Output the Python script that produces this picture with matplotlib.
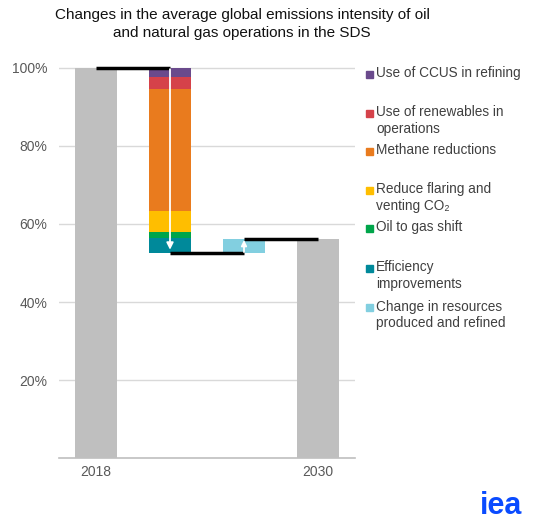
import matplotlib.pyplot as plt
from matplotlib.patches import Rectangle

plt.rcParams['font.family'] = ['Liberation Sans', 'DejaVu Sans']

# data
start_2018 = 100.0
drivers = ['Use of CCUS in refining', 'Use of renewables in\noperations',
           'Methane reductions', 'Reduce flaring and\nventing CO\u2082',
           'Oil to gas shift', 'Efficiency\nimprovements']
reductions = [2.3, 3.1, 31.3, 5.4, 1.6, 3.7]
driver_colors = ['#6a4a8c', '#d5424a', '#e97b1e', '#ffbe00', '#00a54a', '#00899a']
resource_label = 'Change in resources\nproduced and refined'
resource_change = 3.6
resource_color = '#82cfe0'
xticklabels = ['2018', '', '', '2030']
yticks = [20, 40, 60, 80, 100]

W, H = 544, 525
fig = plt.figure(figsize=(W / 100, H / 100), dpi=100)
ax = fig.add_axes([59 / W, (H - 458) / H, 296 / W, (458 - 60.2) / H])

bw = 0.56
grey = '#bfbfbf'

# 2018 bar
ax.bar(0, start_2018, width=bw, color=grey, zorder=2)

# stacked reductions, from the top down
level = start_2018
for v, c in zip(reductions, driver_colors):
    ax.bar(1, v, bottom=level - v, width=bw, color=c, zorder=2)
    level -= v
after_red = level

# resource change
ax.bar(2, resource_change, bottom=after_red, width=bw, color=resource_color, zorder=2)
end_2030 = after_red + resource_change

# 2030 bar
ax.bar(3, end_2030, width=bw, color=grey, zorder=2)

# connectors
for x0, y in [(0, start_2018), (1, after_red), (2, end_2030)]:
    ax.plot([x0, x0 + 1], [y, y], color='black', lw=2.5, zorder=4,
            clip_on=False, solid_capstyle='butt')

# white arrows
ax.annotate('', xy=(1, after_red + 0.8), xytext=(1, start_2018 - 0.3),
            arrowprops=dict(arrowstyle='-|>', color='white', lw=1.3,
                            mutation_scale=10, shrinkA=0, shrinkB=0), zorder=5)
ax.annotate('', xy=(2, end_2030 - 0.3), xytext=(2, after_red + 0.2),
            arrowprops=dict(arrowstyle='-|>', color='white', lw=1.3,
                            mutation_scale=8, shrinkA=0, shrinkB=0), zorder=5)

ax.set_xlim(-0.5, 3.5)
ax.set_ylim(0, 102)
ax.set_yticks(yticks)
ax.set_yticklabels([f'{t}%' for t in yticks])
ax.set_xticks(range(4))
ax.set_xticklabels(xticklabels)
ax.tick_params(axis='both', length=0, labelsize=10, colors='#595959')
ax.tick_params(axis='x', pad=5)
ax.tick_params(axis='y', pad=8.5)
ax.grid(axis='y', color='#d9d9d9', lw=1, zorder=0)
for s in ['top', 'right', 'left']:
    ax.spines[s].set_visible(False)
ax.spines['bottom'].set_color('#bfbfbf')
ax.spines['bottom'].set_linewidth(1.2)

# legend drawn by hand
leg_y = [74, 113, 151, 190, 228, 268, 307]
leg_labels = drivers + [resource_label]
leg_colors = driver_colors + [resource_color]
for y, lab, c in zip(leg_y, leg_labels, leg_colors):
    fig.add_artist(Rectangle(((366) / W, (H - y - 3.5) / H), 7 / W, 7 / H,
                             transform=fig.transFigure, color=c))
    fig.text(376 / W, (H - y + 7.5) / H, lab, fontsize=9.8, color='#404040',
             va='top', ha='left', linespacing=1.2)

# title
fig.text(242 / W, (H - 8) / H,
         'Changes in the average global emissions intensity of oil\n'
         'and natural gas operations in the SDS',
         ha='center', va='top', fontsize=11, color='#111111', linespacing=1.4)

# logo
fig.text(501 / W, (H - 506) / H, 'iea', ha='center', va='center', fontsize=22,
         fontweight='bold', color='#0a4bff')

fig.savefig('out.png', dpi=100)
